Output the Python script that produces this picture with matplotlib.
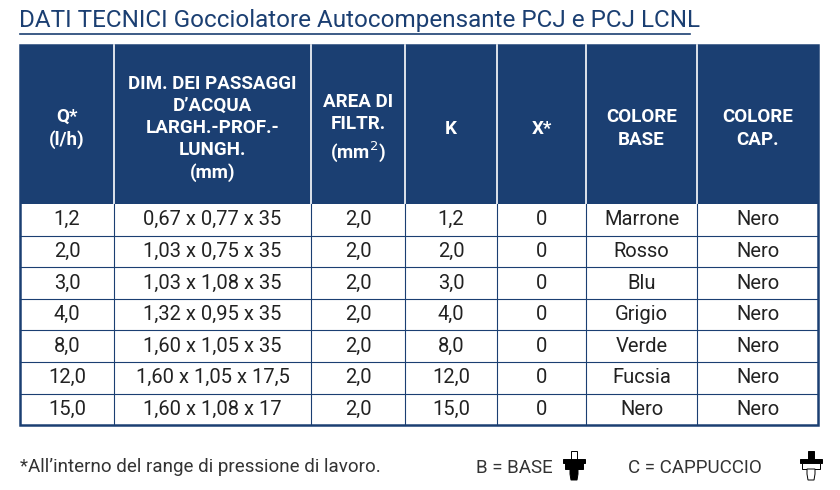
import matplotlib.pyplot as plt
from matplotlib.patches import Rectangle, Polygon

plt.rcParams['font.family'] = ['Roboto', 'DejaVu Sans']

headers = ["Q*\n(l/h)", "DIM. DEI PASSAGGI\nD\u2019ACQUA\nLARGH.-PROF.-\nLUNGH.\n(mm)",
           "AREA DI\nFILTR.\n(mm$^2$)", "K", "X*", "COLORE\nBASE", "COLORE\nCAP."]
portata = ["1,2", "2,0", "3,0", "4,0", "8,0", "12,0", "15,0"]
dimensioni = ["0,67 x 0,77 x 35", "1,03 x 0,75 x 35", "1,03 x 1,08 x 35", "1,32 x 0,95 x 35",
              "1,60 x 1,05 x 35", "1,60 x 1,05 x 17,5", "1,60 x 1,08 x 17"]
area = ["2,0"] * 7
k_vals = ["1,2", "2,0", "3,0", "4,0", "8,0", "12,0", "15,0"]
x_vals = ["0"] * 7
colore_base = ["Marrone", "Rosso", "Blu", "Grigio", "Verde", "Fucsia", "Nero"]
colore_cap = ["Nero"] * 7

BLUE = "#1b3f72"
col_edges = [20, 114, 311, 405, 497, 586, 697, 818]
head_top, head_bot, row_h = 45, 204, 31.6

fig = plt.figure(figsize=(8.4, 4.9), dpi=100)
ax = fig.add_axes([0, 0, 1, 1])
ax.set_xlim(0, 840)
ax.set_ylim(490, 0)
ax.axis('off')

ax.text(19, 21, "DATI TECNICI Gocciolatore Autocompensante PCJ e PCJ LCNL",
        fontsize=17.5, color=BLUE, va='center', ha='left', fontstretch='condensed')
ax.plot([20, 690], [34, 34], color=BLUE, lw=1.2)

# header
ax.add_patch(Rectangle((col_edges[0], head_top), col_edges[-1] - col_edges[0],
                       head_bot - head_top, color=BLUE, lw=0))
for i, h in enumerate(headers):
    cx = (col_edges[i] + col_edges[i + 1]) / 2
    ax.text(cx, (head_top + head_bot) / 2 + 4, h, color='white', fontsize=13.5,
            fontweight='bold', ha='center', va='center', linespacing=1.3)
for x in col_edges[1:-1]:
    ax.plot([x, x], [head_top, head_bot], color='white', lw=1.2)

# body
cols = [portata, dimensioni, area, k_vals, x_vals, colore_base, colore_cap]
nrows = len(portata)
bottom = head_bot + nrows * row_h
for r in range(nrows):
    y = head_bot + (r + 0.5) * row_h
    for i, c in enumerate(cols):
        cx = (col_edges[i] + col_edges[i + 1]) / 2
        ax.text(cx, y, c[r], fontsize=14.5, color='#222222', ha='center', va='center')
    if r > 0:
        ax.plot([col_edges[0], col_edges[-1]], [head_bot + r * row_h] * 2, color=BLUE, lw=0.8)
for x in col_edges[1:-1]:
    ax.plot([x, x], [head_bot, bottom], color=BLUE, lw=0.8)
ax.add_patch(Rectangle((col_edges[0], head_top), col_edges[-1] - col_edges[0],
                       bottom - head_top, fill=False, ec=BLUE, lw=1.8))

# footer
ax.text(20, 467, "*All\u2019interno del range di pressione di lavoro.", fontsize=13.5,
        color='#333333', va='center')
ax.text(476, 468, "B = BASE", fontsize=13.5, color='#333333', va='center')
ax.text(628, 468, "C = CAPPUCCIO", fontsize=13.5, color='#333333', va='center')


def emitter(x, y, dark_top):
    top_c = 'black' if dark_top else 'white'
    bot_c = 'white' if dark_top else 'black'
    ax.add_patch(Rectangle((x - 3, y - 15), 6, 8, fc=top_c, ec='black', lw=0.7))
    ax.add_patch(Rectangle((x - 11, y - 7), 22, 4, fc='black', ec='black', lw=0.7))
    ax.add_patch(Rectangle((x - 9, y - 3), 18, 6, fc=bot_c, ec='black', lw=0.7))
    ax.add_patch(Polygon([(x - 4, y + 3), (x + 4, y + 3), (x + 4, y + 8), (x + 3, y + 14),
                          (x - 3, y + 14), (x - 4, y + 8)], fc=bot_c, ec='black', lw=0.7))


emitter(574, 466, False)
emitter(811, 466, True)

fig.savefig("out.png", dpi=100)
